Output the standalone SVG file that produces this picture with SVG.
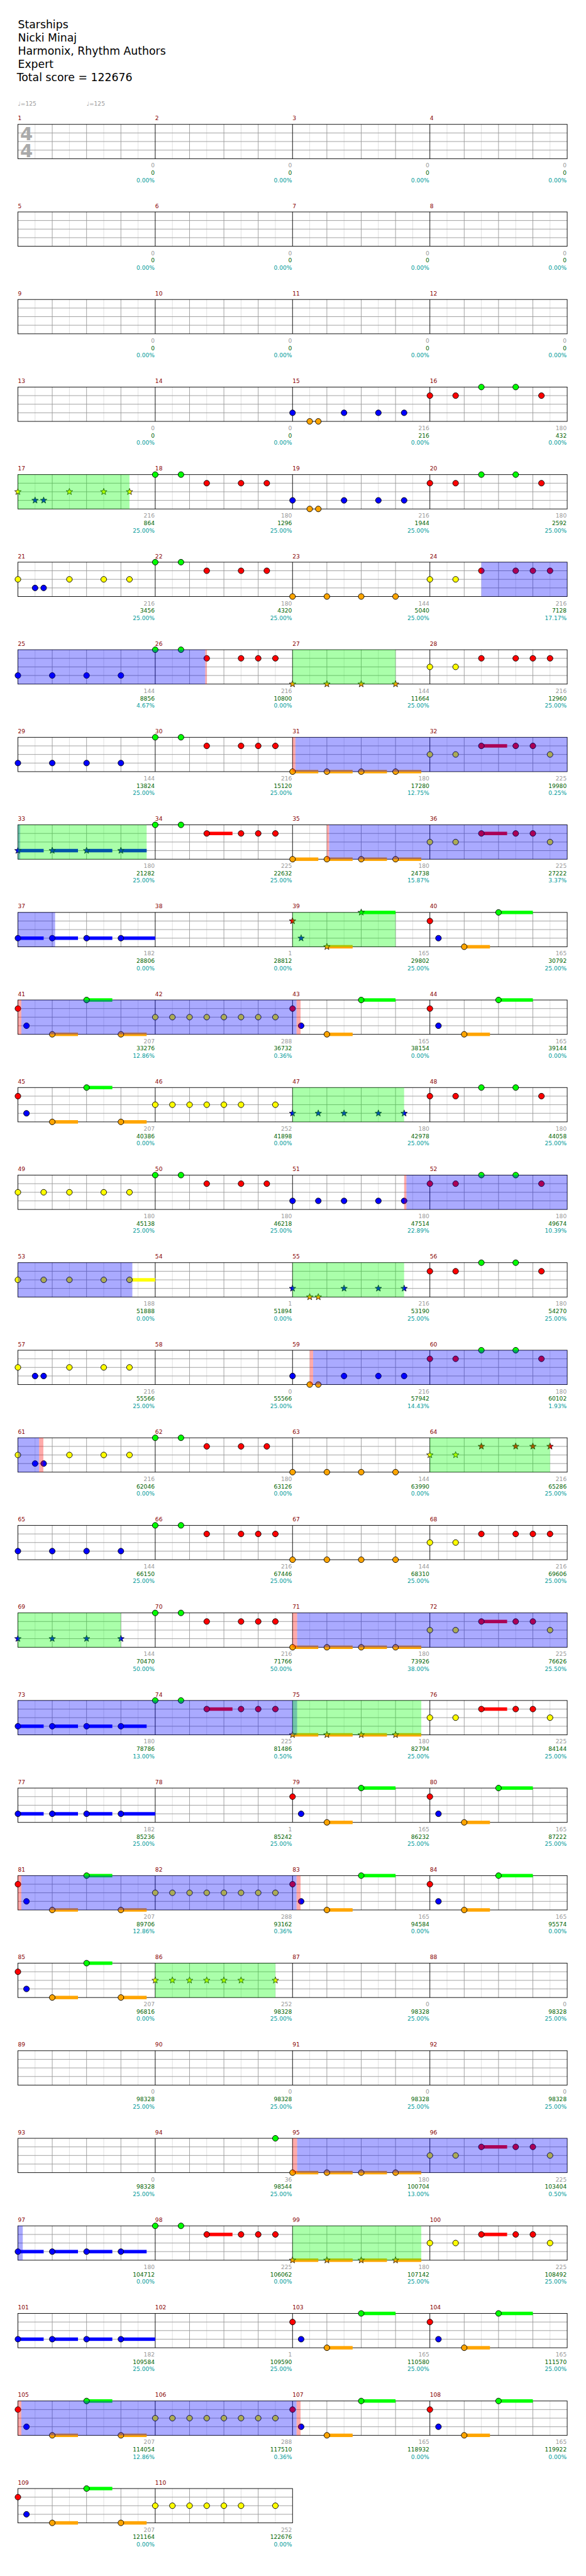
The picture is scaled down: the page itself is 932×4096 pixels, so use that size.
<svg xmlns="http://www.w3.org/2000/svg" width="932" height="4096" viewBox="0 0 932 4096">
<style>
.l8{stroke:#ddd;stroke-width:1;fill:none}
.l4{stroke:#999;stroke-width:1;fill:none}
.lm{stroke:#000;stroke-width:1;fill:none}
circle{stroke:#000;stroke-width:1}
.st{stroke:#000;stroke-width:0.8}
.g{fill:#0f0}.r{fill:#f00}.y{fill:#ff0}.b{fill:#00f}.o{fill:#ffa500}
.ob{fill:#00f;fill-opacity:.333}.og{fill:#0f0;fill-opacity:.333}.op{fill:#f00;fill-opacity:.333}
text{font-family:"DejaVu Sans",Verdana,sans-serif}
.t{font-size:19px;fill:#000}
.mn{font-size:10px;fill:#800}
.la{font-size:10px;text-anchor:end}
.c1{fill:#999}.c2{fill:#006400}.c3{fill:#009b9b}
.ts{font-size:32px;font-weight:bold;fill:#aaa}
.tp{font-size:10px;fill:#999}
</style>
<defs>
<g id="grid4">
<path class="l8" d="M30 0V60M90 0V60M150 0V60M210 0V60M270 0V60M330 0V60M390 0V60M450 0V60M510 0V60M570 0V60M630 0V60M690 0V60M750 0V60M810 0V60M870 0V60M930 0V60"/>
<path class="l4" d="M60 0V60M120 0V60M180 0V60M300 0V60M360 0V60M420 0V60M540 0V60M600 0V60M660 0V60M780 0V60M840 0V60M900 0V60M0 15H960M0 30H960M0 45H960"/>
<path class="lm" d="M240 0V60M480 0V60M720 0V60"/>
<rect class="lm" x="0" y="0" width="960" height="60"/>
</g>
<g id="grid2">
<path class="l8" d="M30 0V60M90 0V60M150 0V60M210 0V60M270 0V60M330 0V60M390 0V60M450 0V60"/>
<path class="l4" d="M60 0V60M120 0V60M180 0V60M300 0V60M360 0V60M420 0V60M0 15H480M0 30H480M0 45H480"/>
<path class="lm" d="M240 0V60"/>
<rect class="lm" x="0" y="0" width="480" height="60"/>
</g>
<path id="star" d="M0,-6 L1.47,-2.02 L5.71,-1.85 L2.38,0.77 L3.53,4.85 L0,2.5 L-3.53,4.85 L-2.38,0.77 L-5.71,-1.85 L-1.47,-2.02 Z"/>
<g id="p10">
<circle class="r" cx="0" cy="15" r="5"/><circle class="b" cx="15" cy="45" r="5"/>
<rect class="o" x="60" y="57" width="45" height="6"/><circle class="o" cx="60" cy="60" r="5"/>
<rect class="g" x="120" y="-3" width="45" height="6"/><circle class="g" cx="120" cy="0" r="5"/>
<rect class="o" x="180" y="57" width="45" height="6"/><circle class="o" cx="180" cy="60" r="5"/>
<circle class="y" cx="240" cy="30" r="5"/><circle class="y" cx="270" cy="30" r="5"/><circle class="y" cx="300" cy="30" r="5"/><circle class="y" cx="330" cy="30" r="5"/><circle class="y" cx="360" cy="30" r="5"/><circle class="y" cx="390" cy="30" r="5"/><circle class="y" cx="420" cy="30" r="5"/><circle class="y" cx="450" cy="30" r="5"/>
<circle class="r" cx="480" cy="15" r="5"/><circle class="b" cx="495" cy="45" r="5"/>
<rect class="o" x="540" y="57" width="45" height="6"/><circle class="o" cx="540" cy="60" r="5"/>
<rect class="g" x="600" y="-3" width="60" height="6"/><circle class="g" cx="600" cy="0" r="5"/>
<circle class="r" cx="720" cy="15" r="5"/><circle class="b" cx="735" cy="45" r="5"/>
<rect class="o" x="780" y="57" width="45" height="6"/><circle class="o" cx="780" cy="60" r="5"/>
<rect class="g" x="840" y="-3" width="60" height="6"/><circle class="g" cx="840" cy="0" r="5"/>
<rect class="op" x="0" y="0" width="6" height="60"/><rect class="ob" x="6" y="0" width="481" height="60"/><rect class="op" x="487" y="0" width="7" height="60"/>
</g>
<g id="p19">
<rect class="b" x="0" y="42" width="45" height="6"/><circle class="b" cx="0" cy="45" r="5"/>
<rect class="b" x="60" y="42" width="45" height="6"/><circle class="b" cx="60" cy="45" r="5"/>
<rect class="b" x="120" y="42" width="45" height="6"/><circle class="b" cx="120" cy="45" r="5"/>
<rect class="b" x="180" y="42" width="60" height="6"/><circle class="b" cx="180" cy="45" r="5"/>
<circle class="r" cx="480" cy="15" r="5"/><circle class="b" cx="495" cy="45" r="5"/>
<rect class="o" x="540" y="57" width="45" height="6"/><circle class="o" cx="540" cy="60" r="5"/>
<rect class="g" x="600" y="-3" width="60" height="6"/><circle class="g" cx="600" cy="0" r="5"/>
<circle class="r" cx="720" cy="15" r="5"/><circle class="b" cx="735" cy="45" r="5"/>
<rect class="o" x="780" y="57" width="45" height="6"/><circle class="o" cx="780" cy="60" r="5"/>
<rect class="g" x="840" y="-3" width="60" height="6"/><circle class="g" cx="840" cy="0" r="5"/>
</g>
</defs>
<rect width="932" height="4096" fill="#fff"/>
<g transform="scale(0.91)">
<g id="header">
<text class="t" x="31.3" y="49">Starships</text>
<text class="t" x="31.3" y="72.1">Nicki Minaj</text>
<text class="t" x="31.3" y="95.2">Harmonix, Rhythm Authors</text>
<text class="t" x="31.3" y="118.3">Expert</text>
<text class="t" x="29.3" y="141.4">Total score = 122676</text>
</g>

<g id="row-1" transform="translate(31.3 217.3)">
<use href="#grid4"/>
<text class="ts" x="4" y="27.7">4</text><text class="ts" x="4" y="57">4</text>
<text class="tp" x="0" y="-33">♩=125</text><text class="tp" x="120" y="-33">♩=125</text>
<g class="mn"><text x="0" y="-7">1</text><text x="240" y="-7">2</text><text x="480" y="-7">3</text><text x="720" y="-7">4</text></g>
<g class="la"><text class="c1" x="239" y="75.4">0</text><text class="c2" x="239" y="88.4">0</text><text class="c3" x="239" y="101">0.00%</text><text class="c1" x="479" y="75.4">0</text><text class="c2" x="479" y="88.4">0</text><text class="c3" x="479" y="101">0.00%</text><text class="c1" x="719" y="75.4">0</text><text class="c2" x="719" y="88.4">0</text><text class="c3" x="719" y="101">0.00%</text><text class="c1" x="959" y="75.4">0</text><text class="c2" x="959" y="88.4">0</text><text class="c3" x="959" y="101">0.00%</text></g>
</g>

<g id="row-2" transform="translate(31.3 370.3)">
<use href="#grid4"/>
<g class="mn"><text x="0" y="-7">5</text><text x="240" y="-7">6</text><text x="480" y="-7">7</text><text x="720" y="-7">8</text></g>
<g class="la"><text class="c1" x="239" y="75.4">0</text><text class="c2" x="239" y="88.4">0</text><text class="c3" x="239" y="101">0.00%</text><text class="c1" x="479" y="75.4">0</text><text class="c2" x="479" y="88.4">0</text><text class="c3" x="479" y="101">0.00%</text><text class="c1" x="719" y="75.4">0</text><text class="c2" x="719" y="88.4">0</text><text class="c3" x="719" y="101">0.00%</text><text class="c1" x="959" y="75.4">0</text><text class="c2" x="959" y="88.4">0</text><text class="c3" x="959" y="101">0.00%</text></g>
</g>

<g id="row-3" transform="translate(31.3 523.3)">
<use href="#grid4"/>
<g class="mn"><text x="0" y="-7">9</text><text x="240" y="-7">10</text><text x="480" y="-7">11</text><text x="720" y="-7">12</text></g>
<g class="la"><text class="c1" x="239" y="75.4">0</text><text class="c2" x="239" y="88.4">0</text><text class="c3" x="239" y="101">0.00%</text><text class="c1" x="479" y="75.4">0</text><text class="c2" x="479" y="88.4">0</text><text class="c3" x="479" y="101">0.00%</text><text class="c1" x="719" y="75.4">0</text><text class="c2" x="719" y="88.4">0</text><text class="c3" x="719" y="101">0.00%</text><text class="c1" x="959" y="75.4">0</text><text class="c2" x="959" y="88.4">0</text><text class="c3" x="959" y="101">0.00%</text></g>
</g>

<g id="row-4" transform="translate(31.3 676.3)">
<use href="#grid4"/>
<circle class="b" cx="480" cy="45" r="5"/><circle class="o" cx="510" cy="60" r="5"/><circle class="o" cx="525" cy="60" r="5"/><circle class="b" cx="570" cy="45" r="5"/><circle class="b" cx="630" cy="45" r="5"/><circle class="b" cx="675" cy="45" r="5"/><circle class="r" cx="720" cy="15" r="5"/><circle class="r" cx="765" cy="15" r="5"/><circle class="g" cx="810" cy="0" r="5"/><circle class="g" cx="870" cy="0" r="5"/><circle class="r" cx="915" cy="15" r="5"/>
<g class="mn"><text x="0" y="-7">13</text><text x="240" y="-7">14</text><text x="480" y="-7">15</text><text x="720" y="-7">16</text></g>
<g class="la"><text class="c1" x="239" y="75.4">0</text><text class="c2" x="239" y="88.4">0</text><text class="c3" x="239" y="101">0.00%</text><text class="c1" x="479" y="75.4">0</text><text class="c2" x="479" y="88.4">0</text><text class="c3" x="479" y="101">0.00%</text><text class="c1" x="719" y="75.4">216</text><text class="c2" x="719" y="88.4">216</text><text class="c3" x="719" y="101">0.00%</text><text class="c1" x="959" y="75.4">180</text><text class="c2" x="959" y="88.4">432</text><text class="c3" x="959" y="101">0.00%</text></g>
</g>

<g id="row-5" transform="translate(31.3 829.3)">
<use href="#grid4"/>
<use href="#star" class="st y" x="0" y="30"/><use href="#star" class="st b" x="30" y="45"/><use href="#star" class="st b" x="45" y="45"/><use href="#star" class="st y" x="90" y="30"/><use href="#star" class="st y" x="150" y="30"/><use href="#star" class="st y" x="195" y="30"/>
<circle class="g" cx="240" cy="0" r="5"/><circle class="g" cx="285" cy="0" r="5"/><circle class="r" cx="330" cy="15" r="5"/><circle class="r" cx="390" cy="15" r="5"/><circle class="r" cx="435" cy="15" r="5"/>
<circle class="b" cx="480" cy="45" r="5"/><circle class="o" cx="510" cy="60" r="5"/><circle class="o" cx="525" cy="60" r="5"/><circle class="b" cx="570" cy="45" r="5"/><circle class="b" cx="630" cy="45" r="5"/><circle class="b" cx="675" cy="45" r="5"/><circle class="r" cx="720" cy="15" r="5"/><circle class="r" cx="765" cy="15" r="5"/><circle class="g" cx="810" cy="0" r="5"/><circle class="g" cx="870" cy="0" r="5"/><circle class="r" cx="915" cy="15" r="5"/>
<rect class="og" x="0" y="0" width="195" height="60"/>
<g class="mn"><text x="0" y="-7">17</text><text x="240" y="-7">18</text><text x="480" y="-7">19</text><text x="720" y="-7">20</text></g>
<g class="la"><text class="c1" x="239" y="75.4">216</text><text class="c2" x="239" y="88.4">864</text><text class="c3" x="239" y="101">25.00%</text><text class="c1" x="479" y="75.4">180</text><text class="c2" x="479" y="88.4">1296</text><text class="c3" x="479" y="101">25.00%</text><text class="c1" x="719" y="75.4">216</text><text class="c2" x="719" y="88.4">1944</text><text class="c3" x="719" y="101">25.00%</text><text class="c1" x="959" y="75.4">180</text><text class="c2" x="959" y="88.4">2592</text><text class="c3" x="959" y="101">25.00%</text></g>
</g>

<g id="row-6" transform="translate(31.3 982.3)">
<use href="#grid4"/>
<circle class="y" cx="0" cy="30" r="5"/><circle class="b" cx="30" cy="45" r="5"/><circle class="b" cx="45" cy="45" r="5"/><circle class="y" cx="90" cy="30" r="5"/><circle class="y" cx="150" cy="30" r="5"/><circle class="y" cx="195" cy="30" r="5"/>
<circle class="g" cx="240" cy="0" r="5"/><circle class="g" cx="285" cy="0" r="5"/><circle class="r" cx="330" cy="15" r="5"/><circle class="r" cx="390" cy="15" r="5"/><circle class="r" cx="435" cy="15" r="5"/>
<circle class="o" cx="480" cy="60" r="5"/><circle class="o" cx="540" cy="60" r="5"/><circle class="o" cx="600" cy="60" r="5"/><circle class="o" cx="660" cy="60" r="5"/>
<circle class="y" cx="720" cy="30" r="5"/><circle class="y" cx="765" cy="30" r="5"/><circle class="r" cx="810" cy="15" r="5"/><circle class="r" cx="870" cy="15" r="5"/><circle class="r" cx="900" cy="15" r="5"/><circle class="r" cx="930" cy="15" r="5"/>
<rect class="ob" x="810" y="0" width="150" height="60"/>
<g class="mn"><text x="0" y="-7">21</text><text x="240" y="-7">22</text><text x="480" y="-7">23</text><text x="720" y="-7">24</text></g>
<g class="la"><text class="c1" x="239" y="75.4">216</text><text class="c2" x="239" y="88.4">3456</text><text class="c3" x="239" y="101">25.00%</text><text class="c1" x="479" y="75.4">180</text><text class="c2" x="479" y="88.4">4320</text><text class="c3" x="479" y="101">25.00%</text><text class="c1" x="719" y="75.4">144</text><text class="c2" x="719" y="88.4">5040</text><text class="c3" x="719" y="101">25.00%</text><text class="c1" x="959" y="75.4">216</text><text class="c2" x="959" y="88.4">7128</text><text class="c3" x="959" y="101">17.17%</text></g>
</g>

<g id="row-7" transform="translate(31.3 1135.3)">
<use href="#grid4"/>
<circle class="b" cx="0" cy="45" r="5"/><circle class="b" cx="60" cy="45" r="5"/><circle class="b" cx="120" cy="45" r="5"/><circle class="b" cx="180" cy="45" r="5"/>
<circle class="g" cx="240" cy="0" r="5"/><circle class="g" cx="285" cy="0" r="5"/><circle class="r" cx="330" cy="15" r="5"/><circle class="r" cx="390" cy="15" r="5"/><circle class="r" cx="420" cy="15" r="5"/><circle class="r" cx="450" cy="15" r="5"/>
<use href="#star" class="st o" x="480" y="60"/><use href="#star" class="st o" x="540" y="60"/><use href="#star" class="st o" x="600" y="60"/><use href="#star" class="st o" x="660" y="60"/>
<circle class="y" cx="720" cy="30" r="5"/><circle class="y" cx="765" cy="30" r="5"/><circle class="r" cx="810" cy="15" r="5"/><circle class="r" cx="870" cy="15" r="5"/><circle class="r" cx="900" cy="15" r="5"/><circle class="r" cx="930" cy="15" r="5"/>
<rect class="ob" x="0" y="0" width="327.5" height="60"/><rect class="op" x="327.5" y="0" width="2.5" height="60"/><rect class="og" x="480" y="0" width="180" height="60"/>
<g class="mn"><text x="0" y="-7">25</text><text x="240" y="-7">26</text><text x="480" y="-7">27</text><text x="720" y="-7">28</text></g>
<g class="la"><text class="c1" x="239" y="75.4">144</text><text class="c2" x="239" y="88.4">8856</text><text class="c3" x="239" y="101">4.67%</text><text class="c1" x="479" y="75.4">216</text><text class="c2" x="479" y="88.4">10800</text><text class="c3" x="479" y="101">0.00%</text><text class="c1" x="719" y="75.4">144</text><text class="c2" x="719" y="88.4">11664</text><text class="c3" x="719" y="101">25.00%</text><text class="c1" x="959" y="75.4">216</text><text class="c2" x="959" y="88.4">12960</text><text class="c3" x="959" y="101">25.00%</text></g>
</g>

<g id="row-8" transform="translate(31.3 1288.3)">
<use href="#grid4"/>
<circle class="b" cx="0" cy="45" r="5"/><circle class="b" cx="60" cy="45" r="5"/><circle class="b" cx="120" cy="45" r="5"/><circle class="b" cx="180" cy="45" r="5"/>
<circle class="g" cx="240" cy="0" r="5"/><circle class="g" cx="285" cy="0" r="5"/><circle class="r" cx="330" cy="15" r="5"/><circle class="r" cx="390" cy="15" r="5"/><circle class="r" cx="420" cy="15" r="5"/><circle class="r" cx="450" cy="15" r="5"/>
<rect class="o" x="480" y="57" width="45" height="6"/><rect class="o" x="540" y="57" width="45" height="6"/><rect class="o" x="600" y="57" width="45" height="6"/><rect class="o" x="660" y="57" width="45" height="6"/>
<circle class="o" cx="480" cy="60" r="5"/><circle class="o" cx="540" cy="60" r="5"/><circle class="o" cx="600" cy="60" r="5"/><circle class="o" cx="660" cy="60" r="5"/>
<circle class="y" cx="720" cy="30" r="5"/><circle class="y" cx="765" cy="30" r="5"/><rect class="r" x="810" y="12" width="45" height="6"/><circle class="r" cx="810" cy="15" r="5"/><circle class="r" cx="870" cy="15" r="5"/><circle class="r" cx="900" cy="15" r="5"/><circle class="y" cx="930" cy="30" r="5"/>
<rect class="op" x="480" y="0" width="5" height="60"/><rect class="ob" x="485" y="0" width="475" height="60"/>
<g class="mn"><text x="0" y="-7">29</text><text x="240" y="-7">30</text><text x="480" y="-7">31</text><text x="720" y="-7">32</text></g>
<g class="la"><text class="c1" x="239" y="75.4">144</text><text class="c2" x="239" y="88.4">13824</text><text class="c3" x="239" y="101">25.00%</text><text class="c1" x="479" y="75.4">216</text><text class="c2" x="479" y="88.4">15120</text><text class="c3" x="479" y="101">25.00%</text><text class="c1" x="719" y="75.4">180</text><text class="c2" x="719" y="88.4">17280</text><text class="c3" x="719" y="101">12.75%</text><text class="c1" x="959" y="75.4">225</text><text class="c2" x="959" y="88.4">19980</text><text class="c3" x="959" y="101">0.25%</text></g>
</g>

<g id="row-9" transform="translate(31.3 1441.3)">
<use href="#grid4"/>
<rect class="b" x="0" y="42" width="45" height="6"/><rect class="b" x="60" y="42" width="45" height="6"/><rect class="b" x="120" y="42" width="45" height="6"/><rect class="b" x="180" y="42" width="45" height="6"/>
<use href="#star" class="st b" x="0" y="45"/><use href="#star" class="st b" x="60" y="45"/><use href="#star" class="st b" x="120" y="45"/><use href="#star" class="st b" x="180" y="45"/>
<circle class="g" cx="240" cy="0" r="5"/><circle class="g" cx="285" cy="0" r="5"/><rect class="r" x="330" y="12" width="45" height="6"/><circle class="r" cx="330" cy="15" r="5"/><circle class="r" cx="390" cy="15" r="5"/><circle class="r" cx="420" cy="15" r="5"/><circle class="r" cx="450" cy="15" r="5"/>
<rect class="o" x="480" y="57" width="45" height="6"/><rect class="o" x="540" y="57" width="45" height="6"/><rect class="o" x="600" y="57" width="45" height="6"/><rect class="o" x="660" y="57" width="45" height="6"/>
<circle class="o" cx="480" cy="60" r="5"/><circle class="o" cx="540" cy="60" r="5"/><circle class="o" cx="600" cy="60" r="5"/><circle class="o" cx="660" cy="60" r="5"/>
<circle class="y" cx="720" cy="30" r="5"/><circle class="y" cx="765" cy="30" r="5"/><rect class="r" x="810" y="12" width="45" height="6"/><circle class="r" cx="810" cy="15" r="5"/><circle class="r" cx="870" cy="15" r="5"/><circle class="r" cx="900" cy="15" r="5"/><circle class="y" cx="930" cy="30" r="5"/>
<rect class="ob" x="0" y="0" width="4" height="60"/><rect class="og" x="0" y="0" width="225" height="60"/><rect class="op" x="540" y="0" width="4" height="60"/><rect class="ob" x="544" y="0" width="416" height="60"/>
<g class="mn"><text x="0" y="-7">33</text><text x="240" y="-7">34</text><text x="480" y="-7">35</text><text x="720" y="-7">36</text></g>
<g class="la"><text class="c1" x="239" y="75.4">180</text><text class="c2" x="239" y="88.4">21282</text><text class="c3" x="239" y="101">25.00%</text><text class="c1" x="479" y="75.4">225</text><text class="c2" x="479" y="88.4">22632</text><text class="c3" x="479" y="101">25.00%</text><text class="c1" x="719" y="75.4">180</text><text class="c2" x="719" y="88.4">24738</text><text class="c3" x="719" y="101">15.87%</text><text class="c1" x="959" y="75.4">225</text><text class="c2" x="959" y="88.4">27222</text><text class="c3" x="959" y="101">3.37%</text></g>
</g>

<g id="row-10" transform="translate(31.3 1594.3)">
<use href="#grid4"/>
<rect class="b" x="0" y="42" width="45" height="6"/><circle class="b" cx="0" cy="45" r="5"/>
<rect class="b" x="60" y="42" width="45" height="6"/><circle class="b" cx="60" cy="45" r="5"/>
<rect class="b" x="120" y="42" width="45" height="6"/><circle class="b" cx="120" cy="45" r="5"/>
<rect class="b" x="180" y="42" width="60" height="6"/><circle class="b" cx="180" cy="45" r="5"/>
<use href="#star" class="st r" x="480" y="15"/><use href="#star" class="st b" x="495" y="45"/>
<rect class="o" x="540" y="57" width="45" height="6"/><use href="#star" class="st o" x="540" y="60"/>
<rect class="g" x="600" y="-3" width="60" height="6"/><use href="#star" class="st g" x="600" y="0"/>
<circle class="r" cx="720" cy="15" r="5"/><circle class="b" cx="735" cy="45" r="5"/>
<rect class="o" x="780" y="57" width="45" height="6"/><circle class="o" cx="780" cy="60" r="5"/>
<rect class="g" x="840" y="-3" width="60" height="6"/><circle class="g" cx="840" cy="0" r="5"/>
<rect class="ob" x="0" y="0" width="65" height="60"/><rect class="og" x="480" y="0" width="180" height="60"/>
<g class="mn"><text x="0" y="-7">37</text><text x="240" y="-7">38</text><text x="480" y="-7">39</text><text x="720" y="-7">40</text></g>
<g class="la"><text class="c1" x="239" y="75.4">182</text><text class="c2" x="239" y="88.4">28806</text><text class="c3" x="239" y="101">0.00%</text><text class="c1" x="479" y="75.4">1</text><text class="c2" x="479" y="88.4">28812</text><text class="c3" x="479" y="101">0.00%</text><text class="c1" x="719" y="75.4">165</text><text class="c2" x="719" y="88.4">29802</text><text class="c3" x="719" y="101">25.00%</text><text class="c1" x="959" y="75.4">165</text><text class="c2" x="959" y="88.4">30792</text><text class="c3" x="959" y="101">25.00%</text></g>
</g>

<g id="row-11" transform="translate(31.3 1747.3)">
<use href="#grid4"/>
<use href="#p10"/>
<g class="mn"><text x="0" y="-7">41</text><text x="240" y="-7">42</text><text x="480" y="-7">43</text><text x="720" y="-7">44</text></g>
<g class="la"><text class="c1" x="239" y="75.4">207</text><text class="c2" x="239" y="88.4">33276</text><text class="c3" x="239" y="101">12.86%</text><text class="c1" x="479" y="75.4">288</text><text class="c2" x="479" y="88.4">36732</text><text class="c3" x="479" y="101">0.36%</text><text class="c1" x="719" y="75.4">165</text><text class="c2" x="719" y="88.4">38154</text><text class="c3" x="719" y="101">0.00%</text><text class="c1" x="959" y="75.4">165</text><text class="c2" x="959" y="88.4">39144</text><text class="c3" x="959" y="101">0.00%</text></g>
</g>

<g id="row-12" transform="translate(31.3 1900.3)">
<use href="#grid4"/>
<circle class="r" cx="0" cy="15" r="5"/><circle class="b" cx="15" cy="45" r="5"/>
<rect class="o" x="60" y="57" width="45" height="6"/><circle class="o" cx="60" cy="60" r="5"/>
<rect class="g" x="120" y="-3" width="45" height="6"/><circle class="g" cx="120" cy="0" r="5"/>
<rect class="o" x="180" y="57" width="45" height="6"/><circle class="o" cx="180" cy="60" r="5"/>
<circle class="y" cx="240" cy="30" r="5"/><circle class="y" cx="270" cy="30" r="5"/><circle class="y" cx="300" cy="30" r="5"/><circle class="y" cx="330" cy="30" r="5"/><circle class="y" cx="360" cy="30" r="5"/><circle class="y" cx="390" cy="30" r="5"/><circle class="y" cx="450" cy="30" r="5"/>
<use href="#star" class="st b" x="480" y="45"/><use href="#star" class="st b" x="525" y="45"/><use href="#star" class="st b" x="570" y="45"/><use href="#star" class="st b" x="630" y="45"/><use href="#star" class="st b" x="675" y="45"/>
<circle class="r" cx="720" cy="15" r="5"/><circle class="r" cx="765" cy="15" r="5"/><circle class="g" cx="810" cy="0" r="5"/><circle class="g" cx="870" cy="0" r="5"/><circle class="r" cx="915" cy="15" r="5"/>
<rect class="og" x="480" y="0" width="195" height="60"/>
<g class="mn"><text x="0" y="-7">45</text><text x="240" y="-7">46</text><text x="480" y="-7">47</text><text x="720" y="-7">48</text></g>
<g class="la"><text class="c1" x="239" y="75.4">207</text><text class="c2" x="239" y="88.4">40386</text><text class="c3" x="239" y="101">0.00%</text><text class="c1" x="479" y="75.4">252</text><text class="c2" x="479" y="88.4">41898</text><text class="c3" x="479" y="101">0.00%</text><text class="c1" x="719" y="75.4">180</text><text class="c2" x="719" y="88.4">42978</text><text class="c3" x="719" y="101">25.00%</text><text class="c1" x="959" y="75.4">180</text><text class="c2" x="959" y="88.4">44058</text><text class="c3" x="959" y="101">25.00%</text></g>
</g>

<g id="row-13" transform="translate(31.3 2053.3)">
<use href="#grid4"/>
<circle class="y" cx="0" cy="30" r="5"/><circle class="y" cx="45" cy="30" r="5"/><circle class="y" cx="90" cy="30" r="5"/><circle class="y" cx="150" cy="30" r="5"/><circle class="y" cx="195" cy="30" r="5"/>
<circle class="g" cx="240" cy="0" r="5"/><circle class="g" cx="285" cy="0" r="5"/><circle class="r" cx="330" cy="15" r="5"/><circle class="r" cx="390" cy="15" r="5"/><circle class="r" cx="435" cy="15" r="5"/>
<circle class="b" cx="480" cy="45" r="5"/><circle class="b" cx="525" cy="45" r="5"/><circle class="b" cx="570" cy="45" r="5"/><circle class="b" cx="630" cy="45" r="5"/><circle class="b" cx="675" cy="45" r="5"/>
<circle class="r" cx="720" cy="15" r="5"/><circle class="r" cx="765" cy="15" r="5"/><circle class="g" cx="810" cy="0" r="5"/><circle class="g" cx="870" cy="0" r="5"/><circle class="r" cx="915" cy="15" r="5"/>
<rect class="op" x="675" y="0" width="4" height="60"/><rect class="ob" x="679" y="0" width="281" height="60"/>
<g class="mn"><text x="0" y="-7">49</text><text x="240" y="-7">50</text><text x="480" y="-7">51</text><text x="720" y="-7">52</text></g>
<g class="la"><text class="c1" x="239" y="75.4">180</text><text class="c2" x="239" y="88.4">45138</text><text class="c3" x="239" y="101">25.00%</text><text class="c1" x="479" y="75.4">180</text><text class="c2" x="479" y="88.4">46218</text><text class="c3" x="479" y="101">25.00%</text><text class="c1" x="719" y="75.4">180</text><text class="c2" x="719" y="88.4">47514</text><text class="c3" x="719" y="101">22.89%</text><text class="c1" x="959" y="75.4">180</text><text class="c2" x="959" y="88.4">49674</text><text class="c3" x="959" y="101">10.39%</text></g>
</g>

<g id="row-14" transform="translate(31.3 2206.3)">
<use href="#grid4"/>
<circle class="y" cx="0" cy="30" r="5"/><circle class="y" cx="45" cy="30" r="5"/><circle class="y" cx="90" cy="30" r="5"/><circle class="y" cx="150" cy="30" r="5"/><rect class="y" x="195" y="27" width="45" height="6"/><circle class="y" cx="195" cy="30" r="5"/>
<use href="#star" class="st b" x="480" y="45"/><use href="#star" class="st o" x="510" y="60"/><use href="#star" class="st o" x="525" y="60"/><use href="#star" class="st b" x="570" y="45"/><use href="#star" class="st b" x="630" y="45"/><use href="#star" class="st b" x="675" y="45"/>
<circle class="r" cx="720" cy="15" r="5"/><circle class="r" cx="765" cy="15" r="5"/><circle class="g" cx="810" cy="0" r="5"/><circle class="g" cx="870" cy="0" r="5"/><circle class="r" cx="915" cy="15" r="5"/>
<rect class="ob" x="0" y="0" width="200" height="60"/><rect class="og" x="480" y="0" width="195" height="60"/>
<g class="mn"><text x="0" y="-7">53</text><text x="240" y="-7">54</text><text x="480" y="-7">55</text><text x="720" y="-7">56</text></g>
<g class="la"><text class="c1" x="239" y="75.4">188</text><text class="c2" x="239" y="88.4">51888</text><text class="c3" x="239" y="101">0.00%</text><text class="c1" x="479" y="75.4">1</text><text class="c2" x="479" y="88.4">51894</text><text class="c3" x="479" y="101">0.00%</text><text class="c1" x="719" y="75.4">216</text><text class="c2" x="719" y="88.4">53190</text><text class="c3" x="719" y="101">25.00%</text><text class="c1" x="959" y="75.4">180</text><text class="c2" x="959" y="88.4">54270</text><text class="c3" x="959" y="101">25.00%</text></g>
</g>

<g id="row-15" transform="translate(31.3 2359.3)">
<use href="#grid4"/>
<circle class="y" cx="0" cy="30" r="5"/><circle class="b" cx="30" cy="45" r="5"/><circle class="b" cx="45" cy="45" r="5"/><circle class="y" cx="90" cy="30" r="5"/><circle class="y" cx="150" cy="30" r="5"/><circle class="y" cx="195" cy="30" r="5"/>
<circle class="b" cx="480" cy="45" r="5"/><circle class="o" cx="510" cy="60" r="5"/><circle class="o" cx="525" cy="60" r="5"/><circle class="b" cx="570" cy="45" r="5"/><circle class="b" cx="630" cy="45" r="5"/><circle class="b" cx="675" cy="45" r="5"/><circle class="r" cx="720" cy="15" r="5"/><circle class="r" cx="765" cy="15" r="5"/><circle class="g" cx="810" cy="0" r="5"/><circle class="g" cx="870" cy="0" r="5"/><circle class="r" cx="915" cy="15" r="5"/>
<rect class="op" x="510" y="0" width="6" height="60"/><rect class="ob" x="516" y="0" width="444" height="60"/>
<g class="mn"><text x="0" y="-7">57</text><text x="240" y="-7">58</text><text x="480" y="-7">59</text><text x="720" y="-7">60</text></g>
<g class="la"><text class="c1" x="239" y="75.4">216</text><text class="c2" x="239" y="88.4">55566</text><text class="c3" x="239" y="101">25.00%</text><text class="c1" x="479" y="75.4">0</text><text class="c2" x="479" y="88.4">55566</text><text class="c3" x="479" y="101">25.00%</text><text class="c1" x="719" y="75.4">216</text><text class="c2" x="719" y="88.4">57942</text><text class="c3" x="719" y="101">14.43%</text><text class="c1" x="959" y="75.4">180</text><text class="c2" x="959" y="88.4">60102</text><text class="c3" x="959" y="101">1.93%</text></g>
</g>

<g id="row-16" transform="translate(31.3 2512.3)">
<use href="#grid4"/>
<circle class="y" cx="0" cy="30" r="5"/><circle class="b" cx="30" cy="45" r="5"/><circle class="b" cx="45" cy="45" r="5"/><circle class="y" cx="90" cy="30" r="5"/><circle class="y" cx="150" cy="30" r="5"/><circle class="y" cx="195" cy="30" r="5"/>
<circle class="g" cx="240" cy="0" r="5"/><circle class="g" cx="285" cy="0" r="5"/><circle class="r" cx="330" cy="15" r="5"/><circle class="r" cx="390" cy="15" r="5"/><circle class="r" cx="435" cy="15" r="5"/>
<circle class="o" cx="480" cy="60" r="5"/><circle class="o" cx="540" cy="60" r="5"/><circle class="o" cx="600" cy="60" r="5"/><circle class="o" cx="660" cy="60" r="5"/>
<use href="#star" class="st y" x="720" y="30"/><use href="#star" class="st y" x="765" y="30"/><use href="#star" class="st r" x="810" y="15"/><use href="#star" class="st r" x="870" y="15"/><use href="#star" class="st r" x="900" y="15"/><use href="#star" class="st r" x="930" y="15"/>
<rect class="ob" x="0" y="0" width="37" height="60"/><rect class="op" x="37" y="0" width="7.5" height="60"/><rect class="og" x="720" y="0" width="210" height="60"/>
<g class="mn"><text x="0" y="-7">61</text><text x="240" y="-7">62</text><text x="480" y="-7">63</text><text x="720" y="-7">64</text></g>
<g class="la"><text class="c1" x="239" y="75.4">216</text><text class="c2" x="239" y="88.4">62046</text><text class="c3" x="239" y="101">0.00%</text><text class="c1" x="479" y="75.4">180</text><text class="c2" x="479" y="88.4">63126</text><text class="c3" x="479" y="101">0.00%</text><text class="c1" x="719" y="75.4">144</text><text class="c2" x="719" y="88.4">63990</text><text class="c3" x="719" y="101">0.00%</text><text class="c1" x="959" y="75.4">216</text><text class="c2" x="959" y="88.4">65286</text><text class="c3" x="959" y="101">25.00%</text></g>
</g>

<g id="row-17" transform="translate(31.3 2665.3)">
<use href="#grid4"/>
<circle class="b" cx="0" cy="45" r="5"/><circle class="b" cx="60" cy="45" r="5"/><circle class="b" cx="120" cy="45" r="5"/><circle class="b" cx="180" cy="45" r="5"/>
<circle class="g" cx="240" cy="0" r="5"/><circle class="g" cx="285" cy="0" r="5"/><circle class="r" cx="330" cy="15" r="5"/><circle class="r" cx="390" cy="15" r="5"/><circle class="r" cx="420" cy="15" r="5"/><circle class="r" cx="450" cy="15" r="5"/>
<circle class="o" cx="480" cy="60" r="5"/><circle class="o" cx="540" cy="60" r="5"/><circle class="o" cx="600" cy="60" r="5"/><circle class="o" cx="660" cy="60" r="5"/>
<circle class="y" cx="720" cy="30" r="5"/><circle class="y" cx="765" cy="30" r="5"/><circle class="r" cx="810" cy="15" r="5"/><circle class="r" cx="870" cy="15" r="5"/><circle class="r" cx="900" cy="15" r="5"/><circle class="r" cx="930" cy="15" r="5"/>
<g class="mn"><text x="0" y="-7">65</text><text x="240" y="-7">66</text><text x="480" y="-7">67</text><text x="720" y="-7">68</text></g>
<g class="la"><text class="c1" x="239" y="75.4">144</text><text class="c2" x="239" y="88.4">66150</text><text class="c3" x="239" y="101">25.00%</text><text class="c1" x="479" y="75.4">216</text><text class="c2" x="479" y="88.4">67446</text><text class="c3" x="479" y="101">25.00%</text><text class="c1" x="719" y="75.4">144</text><text class="c2" x="719" y="88.4">68310</text><text class="c3" x="719" y="101">25.00%</text><text class="c1" x="959" y="75.4">216</text><text class="c2" x="959" y="88.4">69606</text><text class="c3" x="959" y="101">25.00%</text></g>
</g>

<g id="row-18" transform="translate(31.3 2818.3)">
<use href="#grid4"/>
<use href="#star" class="st b" x="0" y="45"/><use href="#star" class="st b" x="60" y="45"/><use href="#star" class="st b" x="120" y="45"/><use href="#star" class="st b" x="180" y="45"/>
<circle class="g" cx="240" cy="0" r="5"/><circle class="g" cx="285" cy="0" r="5"/><circle class="r" cx="330" cy="15" r="5"/><circle class="r" cx="390" cy="15" r="5"/><circle class="r" cx="420" cy="15" r="5"/><circle class="r" cx="450" cy="15" r="5"/>
<rect class="o" x="480" y="57" width="45" height="6"/><rect class="o" x="540" y="57" width="45" height="6"/><rect class="o" x="600" y="57" width="45" height="6"/><rect class="o" x="660" y="57" width="45" height="6"/>
<circle class="o" cx="480" cy="60" r="5"/><circle class="o" cx="540" cy="60" r="5"/><circle class="o" cx="600" cy="60" r="5"/><circle class="o" cx="660" cy="60" r="5"/>
<circle class="y" cx="720" cy="30" r="5"/><circle class="y" cx="765" cy="30" r="5"/><rect class="r" x="810" y="12" width="45" height="6"/><circle class="r" cx="810" cy="15" r="5"/><circle class="r" cx="870" cy="15" r="5"/><circle class="r" cx="900" cy="15" r="5"/><circle class="y" cx="930" cy="30" r="5"/>
<rect class="og" x="0" y="0" width="180" height="60"/><rect class="op" x="480" y="0" width="8" height="60"/><rect class="ob" x="488" y="0" width="472" height="60"/>
<g class="mn"><text x="0" y="-7">69</text><text x="240" y="-7">70</text><text x="480" y="-7">71</text><text x="720" y="-7">72</text></g>
<g class="la"><text class="c1" x="239" y="75.4">144</text><text class="c2" x="239" y="88.4">70470</text><text class="c3" x="239" y="101">50.00%</text><text class="c1" x="479" y="75.4">216</text><text class="c2" x="479" y="88.4">71766</text><text class="c3" x="479" y="101">50.00%</text><text class="c1" x="719" y="75.4">180</text><text class="c2" x="719" y="88.4">73926</text><text class="c3" x="719" y="101">38.00%</text><text class="c1" x="959" y="75.4">225</text><text class="c2" x="959" y="88.4">76626</text><text class="c3" x="959" y="101">25.50%</text></g>
</g>

<g id="row-19" transform="translate(31.3 2971.3)">
<use href="#grid4"/>
<rect class="b" x="0" y="42" width="45" height="6"/><rect class="b" x="60" y="42" width="45" height="6"/><rect class="b" x="120" y="42" width="45" height="6"/><rect class="b" x="180" y="42" width="45" height="6"/>
<circle class="b" cx="0" cy="45" r="5"/><circle class="b" cx="60" cy="45" r="5"/><circle class="b" cx="120" cy="45" r="5"/><circle class="b" cx="180" cy="45" r="5"/>
<circle class="g" cx="240" cy="0" r="5"/><circle class="g" cx="285" cy="0" r="5"/><rect class="r" x="330" y="12" width="45" height="6"/><circle class="r" cx="330" cy="15" r="5"/><circle class="r" cx="390" cy="15" r="5"/><circle class="r" cx="420" cy="15" r="5"/><circle class="r" cx="450" cy="15" r="5"/>
<rect class="o" x="480" y="57" width="45" height="6"/><rect class="o" x="540" y="57" width="45" height="6"/><rect class="o" x="600" y="57" width="45" height="6"/><rect class="o" x="660" y="57" width="45" height="6"/>
<use href="#star" class="st o" x="480" y="60"/><use href="#star" class="st o" x="540" y="60"/><use href="#star" class="st o" x="600" y="60"/><use href="#star" class="st o" x="660" y="60"/>
<circle class="y" cx="720" cy="30" r="5"/><circle class="y" cx="765" cy="30" r="5"/><rect class="r" x="810" y="12" width="45" height="6"/><circle class="r" cx="810" cy="15" r="5"/><circle class="r" cx="870" cy="15" r="5"/><circle class="r" cx="900" cy="15" r="5"/><circle class="y" cx="930" cy="30" r="5"/>
<rect class="ob" x="0" y="0" width="488" height="60"/><rect class="og" x="480" y="0" width="225" height="60"/>
<g class="mn"><text x="0" y="-7">73</text><text x="240" y="-7">74</text><text x="480" y="-7">75</text><text x="720" y="-7">76</text></g>
<g class="la"><text class="c1" x="239" y="75.4">180</text><text class="c2" x="239" y="88.4">78786</text><text class="c3" x="239" y="101">13.00%</text><text class="c1" x="479" y="75.4">225</text><text class="c2" x="479" y="88.4">81486</text><text class="c3" x="479" y="101">0.50%</text><text class="c1" x="719" y="75.4">180</text><text class="c2" x="719" y="88.4">82794</text><text class="c3" x="719" y="101">25.00%</text><text class="c1" x="959" y="75.4">225</text><text class="c2" x="959" y="88.4">84144</text><text class="c3" x="959" y="101">25.00%</text></g>
</g>

<g id="row-20" transform="translate(31.3 3124.3)">
<use href="#grid4"/>
<use href="#p19"/>
<g class="mn"><text x="0" y="-7">77</text><text x="240" y="-7">78</text><text x="480" y="-7">79</text><text x="720" y="-7">80</text></g>
<g class="la"><text class="c1" x="239" y="75.4">182</text><text class="c2" x="239" y="88.4">85236</text><text class="c3" x="239" y="101">25.00%</text><text class="c1" x="479" y="75.4">1</text><text class="c2" x="479" y="88.4">85242</text><text class="c3" x="479" y="101">25.00%</text><text class="c1" x="719" y="75.4">165</text><text class="c2" x="719" y="88.4">86232</text><text class="c3" x="719" y="101">25.00%</text><text class="c1" x="959" y="75.4">165</text><text class="c2" x="959" y="88.4">87222</text><text class="c3" x="959" y="101">25.00%</text></g>
</g>

<g id="row-21" transform="translate(31.3 3277.3)">
<use href="#grid4"/>
<use href="#p10"/>
<g class="mn"><text x="0" y="-7">81</text><text x="240" y="-7">82</text><text x="480" y="-7">83</text><text x="720" y="-7">84</text></g>
<g class="la"><text class="c1" x="239" y="75.4">207</text><text class="c2" x="239" y="88.4">89706</text><text class="c3" x="239" y="101">12.86%</text><text class="c1" x="479" y="75.4">288</text><text class="c2" x="479" y="88.4">93162</text><text class="c3" x="479" y="101">0.36%</text><text class="c1" x="719" y="75.4">165</text><text class="c2" x="719" y="88.4">94584</text><text class="c3" x="719" y="101">0.00%</text><text class="c1" x="959" y="75.4">165</text><text class="c2" x="959" y="88.4">95574</text><text class="c3" x="959" y="101">0.00%</text></g>
</g>

<g id="row-22" transform="translate(31.3 3430.3)">
<use href="#grid4"/>
<circle class="r" cx="0" cy="15" r="5"/><circle class="b" cx="15" cy="45" r="5"/>
<rect class="o" x="60" y="57" width="45" height="6"/><circle class="o" cx="60" cy="60" r="5"/>
<rect class="g" x="120" y="-3" width="45" height="6"/><circle class="g" cx="120" cy="0" r="5"/>
<rect class="o" x="180" y="57" width="45" height="6"/><circle class="o" cx="180" cy="60" r="5"/>
<use href="#star" class="st y" x="240" y="30"/><use href="#star" class="st y" x="270" y="30"/><use href="#star" class="st y" x="300" y="30"/><use href="#star" class="st y" x="330" y="30"/><use href="#star" class="st y" x="360" y="30"/><use href="#star" class="st y" x="390" y="30"/><use href="#star" class="st y" x="450" y="30"/>
<rect class="og" x="240" y="0" width="210" height="60"/>
<g class="mn"><text x="0" y="-7">85</text><text x="240" y="-7">86</text><text x="480" y="-7">87</text><text x="720" y="-7">88</text></g>
<g class="la"><text class="c1" x="239" y="75.4">207</text><text class="c2" x="239" y="88.4">96816</text><text class="c3" x="239" y="101">0.00%</text><text class="c1" x="479" y="75.4">252</text><text class="c2" x="479" y="88.4">98328</text><text class="c3" x="479" y="101">25.00%</text><text class="c1" x="719" y="75.4">0</text><text class="c2" x="719" y="88.4">98328</text><text class="c3" x="719" y="101">25.00%</text><text class="c1" x="959" y="75.4">0</text><text class="c2" x="959" y="88.4">98328</text><text class="c3" x="959" y="101">25.00%</text></g>
</g>

<g id="row-23" transform="translate(31.3 3583.3)">
<use href="#grid4"/>
<g class="mn"><text x="0" y="-7">89</text><text x="240" y="-7">90</text><text x="480" y="-7">91</text><text x="720" y="-7">92</text></g>
<g class="la"><text class="c1" x="239" y="75.4">0</text><text class="c2" x="239" y="88.4">98328</text><text class="c3" x="239" y="101">25.00%</text><text class="c1" x="479" y="75.4">0</text><text class="c2" x="479" y="88.4">98328</text><text class="c3" x="479" y="101">25.00%</text><text class="c1" x="719" y="75.4">0</text><text class="c2" x="719" y="88.4">98328</text><text class="c3" x="719" y="101">25.00%</text><text class="c1" x="959" y="75.4">0</text><text class="c2" x="959" y="88.4">98328</text><text class="c3" x="959" y="101">25.00%</text></g>
</g>

<g id="row-24" transform="translate(31.3 3736.3)">
<use href="#grid4"/>
<circle class="g" cx="450" cy="0" r="5"/>
<rect class="o" x="480" y="57" width="45" height="6"/><rect class="o" x="540" y="57" width="45" height="6"/><rect class="o" x="600" y="57" width="45" height="6"/><rect class="o" x="660" y="57" width="45" height="6"/>
<circle class="o" cx="480" cy="60" r="5"/><circle class="o" cx="540" cy="60" r="5"/><circle class="o" cx="600" cy="60" r="5"/><circle class="o" cx="660" cy="60" r="5"/>
<circle class="y" cx="720" cy="30" r="5"/><circle class="y" cx="765" cy="30" r="5"/><rect class="r" x="810" y="12" width="45" height="6"/><circle class="r" cx="810" cy="15" r="5"/><circle class="r" cx="870" cy="15" r="5"/><circle class="r" cx="900" cy="15" r="5"/><circle class="y" cx="930" cy="30" r="5"/>
<rect class="op" x="480" y="0" width="8" height="60"/><rect class="ob" x="488" y="0" width="472" height="60"/>
<g class="mn"><text x="0" y="-7">93</text><text x="240" y="-7">94</text><text x="480" y="-7">95</text><text x="720" y="-7">96</text></g>
<g class="la"><text class="c1" x="239" y="75.4">0</text><text class="c2" x="239" y="88.4">98328</text><text class="c3" x="239" y="101">25.00%</text><text class="c1" x="479" y="75.4">36</text><text class="c2" x="479" y="88.4">98544</text><text class="c3" x="479" y="101">25.00%</text><text class="c1" x="719" y="75.4">180</text><text class="c2" x="719" y="88.4">100704</text><text class="c3" x="719" y="101">13.00%</text><text class="c1" x="959" y="75.4">225</text><text class="c2" x="959" y="88.4">103404</text><text class="c3" x="959" y="101">0.50%</text></g>
</g>

<g id="row-25" transform="translate(31.3 3889.3)">
<use href="#grid4"/>
<rect class="b" x="0" y="42" width="45" height="6"/><rect class="b" x="60" y="42" width="45" height="6"/><rect class="b" x="120" y="42" width="45" height="6"/><rect class="b" x="180" y="42" width="45" height="6"/>
<circle class="b" cx="0" cy="45" r="5"/><circle class="b" cx="60" cy="45" r="5"/><circle class="b" cx="120" cy="45" r="5"/><circle class="b" cx="180" cy="45" r="5"/>
<circle class="g" cx="240" cy="0" r="5"/><circle class="g" cx="285" cy="0" r="5"/><rect class="r" x="330" y="12" width="45" height="6"/><circle class="r" cx="330" cy="15" r="5"/><circle class="r" cx="390" cy="15" r="5"/><circle class="r" cx="420" cy="15" r="5"/><circle class="r" cx="450" cy="15" r="5"/>
<rect class="o" x="480" y="57" width="45" height="6"/><rect class="o" x="540" y="57" width="45" height="6"/><rect class="o" x="600" y="57" width="45" height="6"/><rect class="o" x="660" y="57" width="45" height="6"/>
<use href="#star" class="st o" x="480" y="60"/><use href="#star" class="st o" x="540" y="60"/><use href="#star" class="st o" x="600" y="60"/><use href="#star" class="st o" x="660" y="60"/>
<circle class="y" cx="720" cy="30" r="5"/><circle class="y" cx="765" cy="30" r="5"/><rect class="r" x="810" y="12" width="45" height="6"/><circle class="r" cx="810" cy="15" r="5"/><circle class="r" cx="870" cy="15" r="5"/><circle class="r" cx="900" cy="15" r="5"/><circle class="y" cx="930" cy="30" r="5"/>
<rect class="ob" x="0" y="0" width="8.5" height="60"/><rect class="og" x="480" y="0" width="225" height="60"/>
<g class="mn"><text x="0" y="-7">97</text><text x="240" y="-7">98</text><text x="480" y="-7">99</text><text x="720" y="-7">100</text></g>
<g class="la"><text class="c1" x="239" y="75.4">180</text><text class="c2" x="239" y="88.4">104712</text><text class="c3" x="239" y="101">0.00%</text><text class="c1" x="479" y="75.4">225</text><text class="c2" x="479" y="88.4">106062</text><text class="c3" x="479" y="101">0.00%</text><text class="c1" x="719" y="75.4">180</text><text class="c2" x="719" y="88.4">107142</text><text class="c3" x="719" y="101">25.00%</text><text class="c1" x="959" y="75.4">225</text><text class="c2" x="959" y="88.4">108492</text><text class="c3" x="959" y="101">25.00%</text></g>
</g>

<g id="row-26" transform="translate(31.3 4042.3)">
<use href="#grid4"/>
<use href="#p19"/>
<g class="mn"><text x="0" y="-7">101</text><text x="240" y="-7">102</text><text x="480" y="-7">103</text><text x="720" y="-7">104</text></g>
<g class="la"><text class="c1" x="239" y="75.4">182</text><text class="c2" x="239" y="88.4">109584</text><text class="c3" x="239" y="101">25.00%</text><text class="c1" x="479" y="75.4">1</text><text class="c2" x="479" y="88.4">109590</text><text class="c3" x="479" y="101">25.00%</text><text class="c1" x="719" y="75.4">165</text><text class="c2" x="719" y="88.4">110580</text><text class="c3" x="719" y="101">25.00%</text><text class="c1" x="959" y="75.4">165</text><text class="c2" x="959" y="88.4">111570</text><text class="c3" x="959" y="101">25.00%</text></g>
</g>

<g id="row-27" transform="translate(31.3 4195.3)">
<use href="#grid4"/>
<use href="#p10"/>
<g class="mn"><text x="0" y="-7">105</text><text x="240" y="-7">106</text><text x="480" y="-7">107</text><text x="720" y="-7">108</text></g>
<g class="la"><text class="c1" x="239" y="75.4">207</text><text class="c2" x="239" y="88.4">114054</text><text class="c3" x="239" y="101">12.86%</text><text class="c1" x="479" y="75.4">288</text><text class="c2" x="479" y="88.4">117510</text><text class="c3" x="479" y="101">0.36%</text><text class="c1" x="719" y="75.4">165</text><text class="c2" x="719" y="88.4">118932</text><text class="c3" x="719" y="101">0.00%</text><text class="c1" x="959" y="75.4">165</text><text class="c2" x="959" y="88.4">119922</text><text class="c3" x="959" y="101">0.00%</text></g>
</g>

<g id="row-28" transform="translate(31.3 4348.3)">
<use href="#grid2"/>
<circle class="r" cx="0" cy="15" r="5"/><circle class="b" cx="15" cy="45" r="5"/>
<rect class="o" x="60" y="57" width="45" height="6"/><circle class="o" cx="60" cy="60" r="5"/>
<rect class="g" x="120" y="-3" width="45" height="6"/><circle class="g" cx="120" cy="0" r="5"/>
<rect class="o" x="180" y="57" width="45" height="6"/><circle class="o" cx="180" cy="60" r="5"/>
<circle class="y" cx="240" cy="30" r="5"/><circle class="y" cx="270" cy="30" r="5"/><circle class="y" cx="300" cy="30" r="5"/><circle class="y" cx="330" cy="30" r="5"/><circle class="y" cx="360" cy="30" r="5"/><circle class="y" cx="390" cy="30" r="5"/><circle class="y" cx="450" cy="30" r="5"/>
<g class="mn"><text x="0" y="-7">109</text><text x="240" y="-7">110</text></g>
<g class="la"><text class="c1" x="239" y="75.4">207</text><text class="c2" x="239" y="88.4">121164</text><text class="c3" x="239" y="101">0.00%</text><text class="c1" x="479" y="75.4">252</text><text class="c2" x="479" y="88.4">122676</text><text class="c3" x="479" y="101">0.00%</text></g>
</g>
</g>
</svg>
